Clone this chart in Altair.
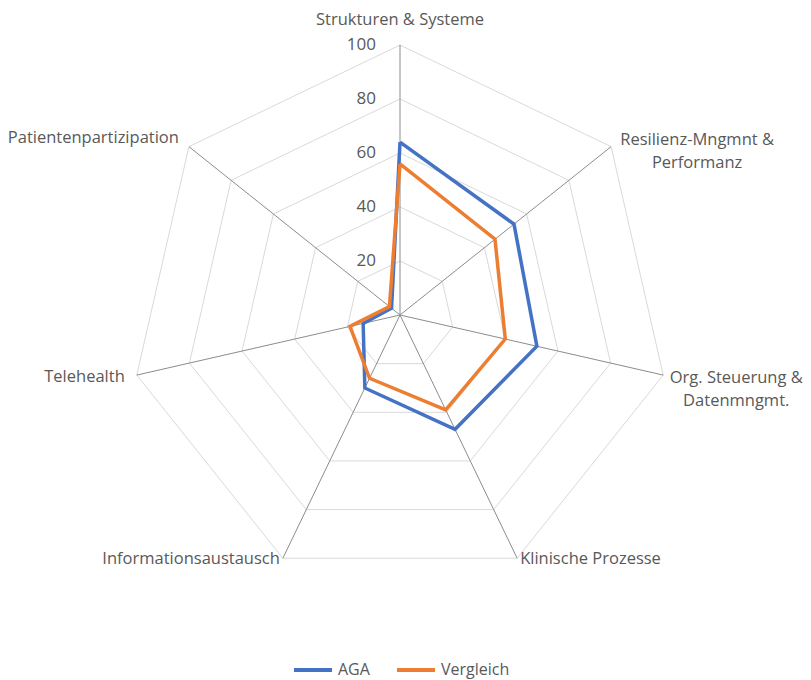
import math
import altair as alt
import pandas as pd

categories = ["Strukturen & Systeme", "Resilienz-Mngmnt & Performanz",
              "Org. Steuerung & Datenmngmt.", "Klinische Prozesse",
              "Informationsaustausch", "Telehealth", "Patientenpartizipation"]
aga = [64, 54, 52, 47, 30, 14, 4]
vergleich = [56, 45, 40, 39, 26, 19, 5]
series_names = ["AGA", "Vergleich"]
grid_levels = [20, 40, 60, 80, 100]
tick_labels = ["20", "40", "60", "80", "100"]

n = len(categories)
FONT = "Open Sans"
TXT = "#595959"

# series data (closed polygons)
rows = []
for name, vals in zip(series_names, [aga, vergleich]):
    for i in range(n + 1):
        k = i % n
        rows.append({"series": name, "idx": i, "cat": categories[k], "value": vals[k], "k": k})
series_df = pd.DataFrame(rows)

grid_rows = []
for lv in grid_levels:
    for i in range(n + 1):
        grid_rows.append({"level": lv, "idx": i, "k": i % n})
grid_df = pd.DataFrame(grid_rows)

spoke_df = pd.DataFrame({"k": list(range(n)), "cat": categories, "r": [100] * n})
tick_df = pd.DataFrame({"level": grid_levels, "label": tick_labels})

ang = f"datum.k*2*PI/{n}"
W, H = 795, 672
S = 2.7
cx, cy = 392, 307
xdom = [-cx / S, (W - cx) / S]
ydom = [-(H - cy) / S, cy / S]
xs = alt.Scale(domain=xdom, nice=False, zero=False)
ys = alt.Scale(domain=ydom, nice=False, zero=False)

def X(f):
    return alt.X(f, type="quantitative", scale=xs, axis=None)
def Y(f):
    return alt.Y(f, type="quantitative", scale=ys, axis=None)

grid = alt.Chart(grid_df).transform_calculate(
    gx=f"datum.level*sin({ang})", gy=f"datum.level*cos({ang})"
).mark_line(color="#D9D9D9", strokeWidth=1).encode(
    x=X("gx"), y=Y("gy"), detail="level:N", order="idx:Q"
)

spokes = alt.Chart(spoke_df).transform_calculate(
    sx=f"datum.r*sin({ang})", sy=f"datum.r*cos({ang})", zx="0", zy="0"
).mark_rule(color="#8C8C8C", strokeWidth=1).encode(
    x=X("zx"), y=Y("zy"), x2="sx:Q", y2="sy:Q"
)

ticks = alt.Chart(tick_df).transform_calculate(tx="0").mark_text(
    align="right", baseline="middle", dx=-24, font=FONT, fontSize=17, color=TXT
).encode(x=X("tx"), y=Y("level"), text="label:N")

lines = alt.Chart(series_df).transform_calculate(
    px=f"datum.value*sin({ang})", py=f"datum.value*cos({ang})"
).mark_line(strokeWidth=3.5, strokeJoin="miter").encode(
    x=X("px"), y=Y("py"), order="idx:Q",
    color=alt.Color("series:N", scale=alt.Scale(domain=series_names, range=["#4472C4", "#ED7D31"]),
                    legend=alt.Legend(title=None, orient="none", legendX=284, legendY=641,
                                      direction="horizontal", symbolType="stroke",
                                      symbolSize=1444, symbolStrokeWidth=4,
                                      labelFont=FONT, labelFontSize=16, labelColor=TXT,
                                      labelOffset=4, columnPadding=19))
)

# category labels: anchored at axis end (r=100), offset in pixels
label_style = {
    0: dict(align="center", dx=0, dy=-25),
    1: dict(align="center", dx=86, dy=-7),
    2: dict(align="center", dx=73, dy=3),
    3: dict(align="left", dx=3, dy=1),
    4: dict(align="right", dx=-3, dy=1),
    5: dict(align="right", dx=-12, dy=2),
    6: dict(align="right", dx=-10, dy=-9),
}
wrap = {1: ["Resilienz-Mngmnt &", "Performanz"], 2: ["Org. Steuerung &", "Datenmngmt."]}
label_layers = []
for k, c in enumerate(categories):
    st = label_style[k]
    txt = wrap.get(k, c)
    ldf = pd.DataFrame({"k": [k], "r": [100], "label": [txt]})
    label_layers.append(
        alt.Chart(ldf).transform_calculate(
            lx=f"datum.r*sin({ang})", ly=f"datum.r*cos({ang})"
        ).mark_text(align=st["align"], baseline="middle", dx=st["dx"], dy=st["dy"],
                    font=FONT, fontSize=16.5, color=TXT, lineHeight=23).encode(
            x=X("lx"), y=Y("ly"), text="label"
        )
    )

chart = alt.layer(grid, spokes, *label_layers, ticks, lines).properties(
    width=W, height=H, autosize=alt.AutoSizeParams(type="none"), padding=0
).configure_view(stroke=None)

chart.save("out.html", embed_options={"renderer": "svg", "actions": False})
